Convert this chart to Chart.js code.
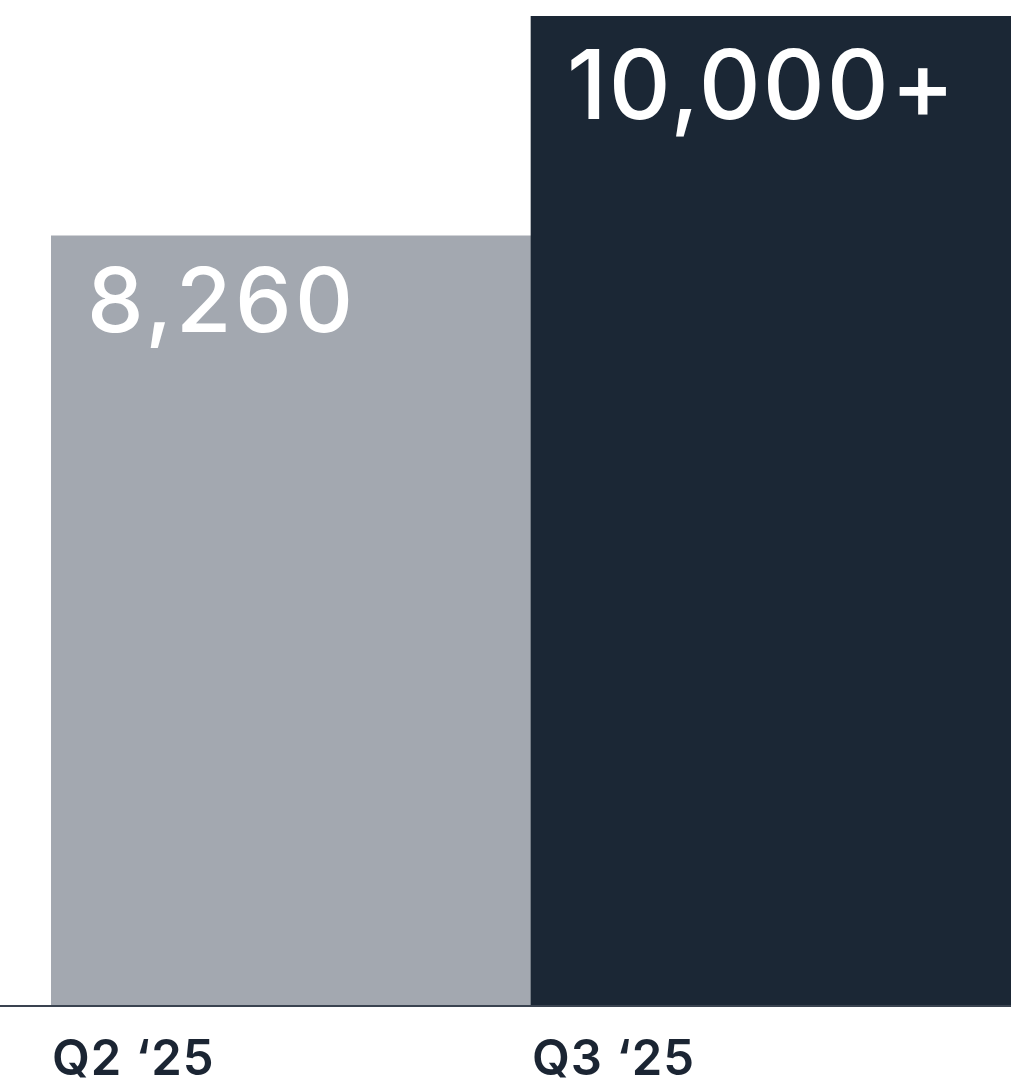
<!DOCTYPE html>
<html>
<head>
<meta charset="utf-8">
<script src="https://cdn.jsdelivr.net/npm/chart.js@4/dist/chart.umd.min.js"></script>
<style>
  html, body { margin: 0; padding: 0; background: #ffffff; }
  canvas { display: block; }
</style>
</head>
<body>
<canvas id="chart" width="1026" height="1086"></canvas>
<script>
// Quarterly totals
const categories = ['Q2 \u201825', 'Q3 \u201825'];
const values = [8260, 10000];
const valueSuffixes = ['', '+'];
const barColors = ['#a3a8b0', '#1b2735'];
const valueFontSizes = [90, 96];
const valueSpacing = ['3.5px', '2px'];

const FONT = 'Inter, "Open Sans", "DejaVu Sans", sans-serif';

// Baseline rule plus the category and value labels
const labelPlugin = {
  id: 'barLabels',
  afterDatasetsDraw(chart) {
    const { ctx, chartArea, scales } = chart;
    const meta = chart.getDatasetMeta(0);
    const baseY = scales.y.getPixelForValue(scales.y.min);

    ctx.save();
    ctx.strokeStyle = '#3a4350';
    ctx.lineWidth = 2;
    ctx.beginPath();
    ctx.moveTo(0, baseY + 1);
    ctx.lineTo(chartArea.right, baseY + 1);
    ctx.stroke();

    meta.data.forEach((bar, i) => {
      const left = bar.x - bar.width / 2;
      // value inside the bar
      ctx.fillStyle = '#ffffff';
      ctx.textAlign = 'left';
      ctx.textBaseline = 'alphabetic';
      ctx.letterSpacing = valueSpacing[i];
      ctx.font = '500 ' + valueFontSizes[i] + 'px ' + FONT;
      const txt = values[i].toLocaleString('en-US') + valueSuffixes[i];
      ctx.fillText(txt, left + 36, bar.y + valueFontSizes[i] * 1.07);

      // category label under the axis
      ctx.fillStyle = '#1b2533';
      ctx.letterSpacing = '1px';
      ctx.font = '600 49px ' + FONT;
      ctx.fillText(categories[i], left + 1, baseY + 70);
    });
    ctx.restore();
  }
};

new Chart(document.getElementById('chart'), {
  type: 'bar',
  data: {
    labels: categories,
    datasets: [{
      data: values,
      backgroundColor: barColors,
      borderWidth: 0,
      barPercentage: 1,
      categoryPercentage: 1
    }]
  },
  options: {
    responsive: false,
    animation: false,
    layout: { padding: { top: 16, bottom: 81, left: 51, right: 15 } },
    plugins: { legend: { display: false }, tooltip: { enabled: false } },
    scales: {
      x: { display: false },
      y: { display: false, min: 2170, max: 10000 }
    }
  },
  plugins: [labelPlugin]
});
</script>
</body>
</html>
